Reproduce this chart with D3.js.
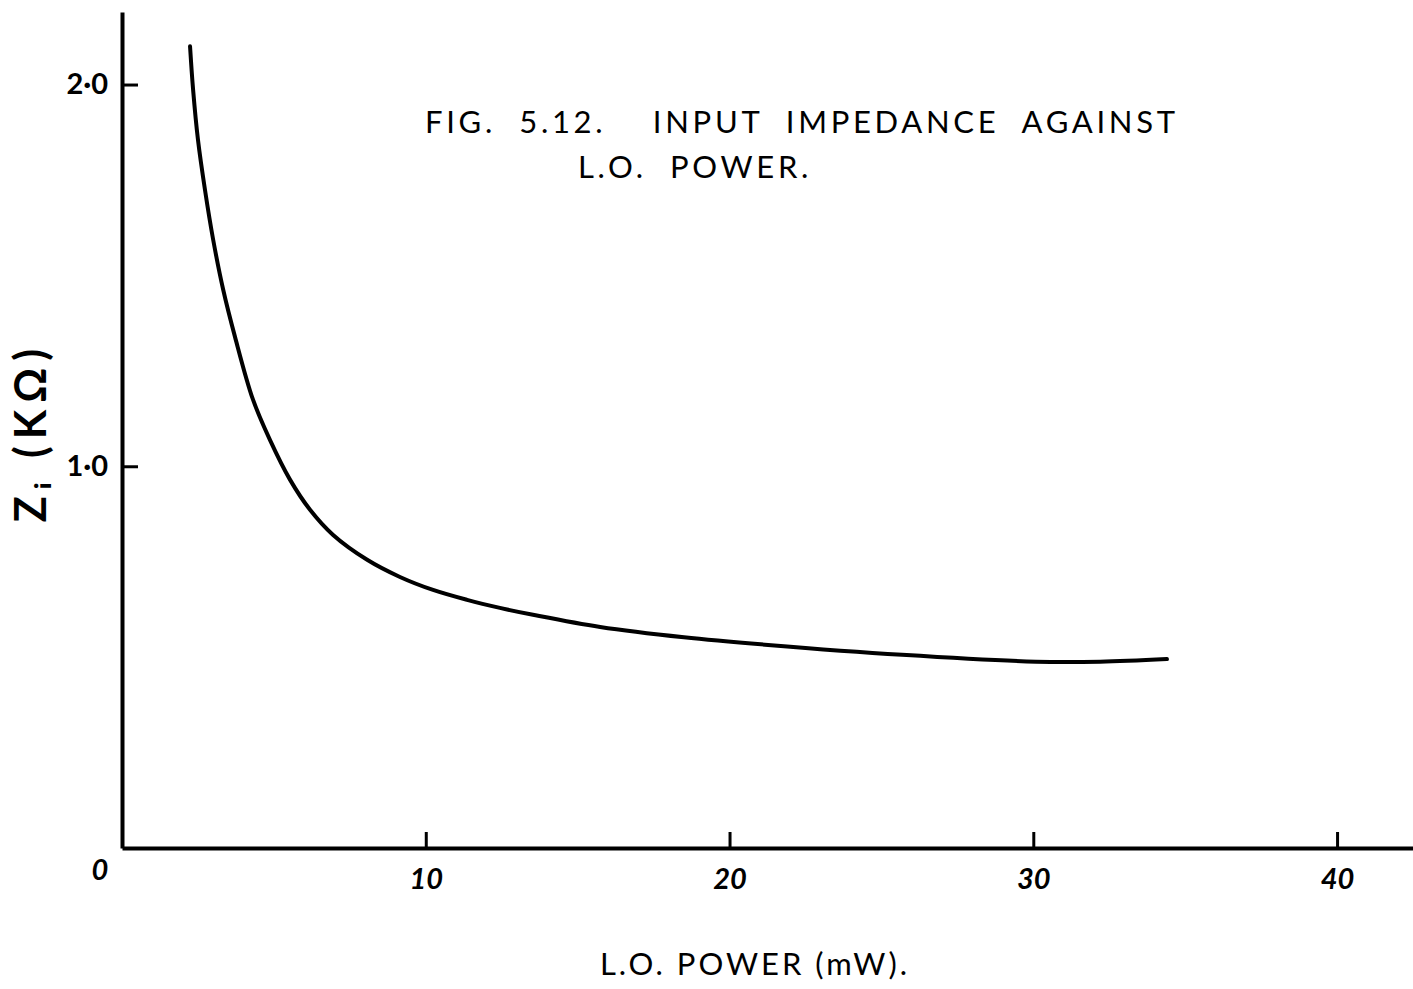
<!DOCTYPE html>
<html>
<head>
<meta charset="utf-8">
<script src="https://cdn.jsdelivr.net/npm/d3@7"></script>
<style>
  html, body { margin: 0; padding: 0; background: #fff; }
  svg { display: block; }
  text { font-family: "Lato", "DejaVu Sans", sans-serif; fill: #000; }
</style>
</head>
<body>
<svg id="chart" width="1413" height="989"></svg>
<script>
// L.O. power (mW)
const powerMW = [2.24, 2.34, 2.50, 2.73, 3.00, 3.33, 3.72, 4.31, 4.87, 5.53, 6.19, 6.95, 8.07, 9.15, 10.24, 11.36, 12.44, 13.53, 15.74, 18.5, 21.27, 25.68, 30.09, 32.2, 34.40];
// Input impedance Zi (kOhm)
const impedanceK = [2.100, 1.987, 1.856, 1.725, 1.594, 1.463, 1.339, 1.175, 1.069, 0.965, 0.886, 0.820, 0.755, 0.710, 0.676, 0.650, 0.629, 0.611, 0.579, 0.552, 0.532, 0.506, 0.488, 0.488, 0.495];
const xTicks = [10, 20, 30, 40];
const yTicks = [1.0, 2.0];
const titleLine1 = "FIG.  5.12.    INPUT  IMPEDANCE  AGAINST";
const titleLine2 = "L.O.  POWER.";
const xLabel = "L.O. POWER (mW).";
const yLabel = "Zᵢ (KΩ)";

const svg = d3.select("#chart");
const x = d3.scaleLinear().domain([0, 42.5]).range([122, 1413]);
const y = d3.scaleLinear().domain([0, 2.19]).range([848, 12]);

// X axis
const xAxis = d3.axisBottom(x).tickValues(xTicks).tickSize(-16).tickSizeOuter(0).tickPadding(20);
const gx = svg.append("g").attr("transform", `translate(0,${y(0)})`).call(xAxis);
gx.select(".domain").attr("stroke", "#000").attr("stroke-width", 4);
gx.selectAll(".tick line").attr("stroke", "#000").attr("stroke-width", 3);
gx.selectAll(".tick text").attr("font-size", 29).attr("font-weight", "bold").attr("font-style", "italic").attr("fill", "#000");

// Y axis
const yAxis = d3.axisLeft(y).tickValues(yTicks).tickSize(-16).tickSizeOuter(0).tickPadding(14)
  .tickFormat(d => d.toFixed(1).replace(".", "·"));
const gy = svg.append("g").attr("transform", `translate(${x(0)},0)`).call(yAxis);
gy.select(".domain").attr("stroke", "#000").attr("stroke-width", 4);
gy.selectAll(".tick line").attr("stroke", "#000").attr("stroke-width", 3);
gy.selectAll(".tick text").attr("font-size", 29).attr("font-weight", "bold").attr("fill", "#000");

// origin label
svg.append("text").attr("x", x(0) - 22).attr("y", y(0) + 32)
  .attr("text-anchor", "middle").attr("font-size", 29).attr("font-weight", "bold").attr("font-style", "italic").text("0");

// Curve
const data = powerMW.map((p, i) => ({ p, z: impedanceK[i] }));
const line = d3.line().x(d => x(d.p)).y(d => y(d.z)).curve(d3.curveCatmullRom.alpha(0.5));
svg.append("path").datum(data).attr("d", line)
  .attr("fill", "none").attr("stroke", "#000").attr("stroke-width", 4).attr("stroke-linecap", "round");

// Title
svg.append("text").attr("x", 425).attr("y", 133)
  .attr("font-size", 31).attr("letter-spacing", 3.7)
  .style("white-space", "pre").text(titleLine1);
svg.append("text").attr("x", 578).attr("y", 178)
  .attr("font-size", 31).attr("letter-spacing", 3.7)
  .style("white-space", "pre").text(titleLine2);

// Axis labels
svg.append("text").attr("x", 755).attr("y", 975).attr("text-anchor", "middle")
  .attr("font-size", 31).attr("letter-spacing", 3).text(xLabel);
svg.append("text").attr("transform", "translate(46,432) rotate(-90)").attr("text-anchor", "middle")
  .attr("font-size", 43).attr("font-weight", "bold").attr("letter-spacing", 7).text(yLabel);
</script>
</body>
</html>
